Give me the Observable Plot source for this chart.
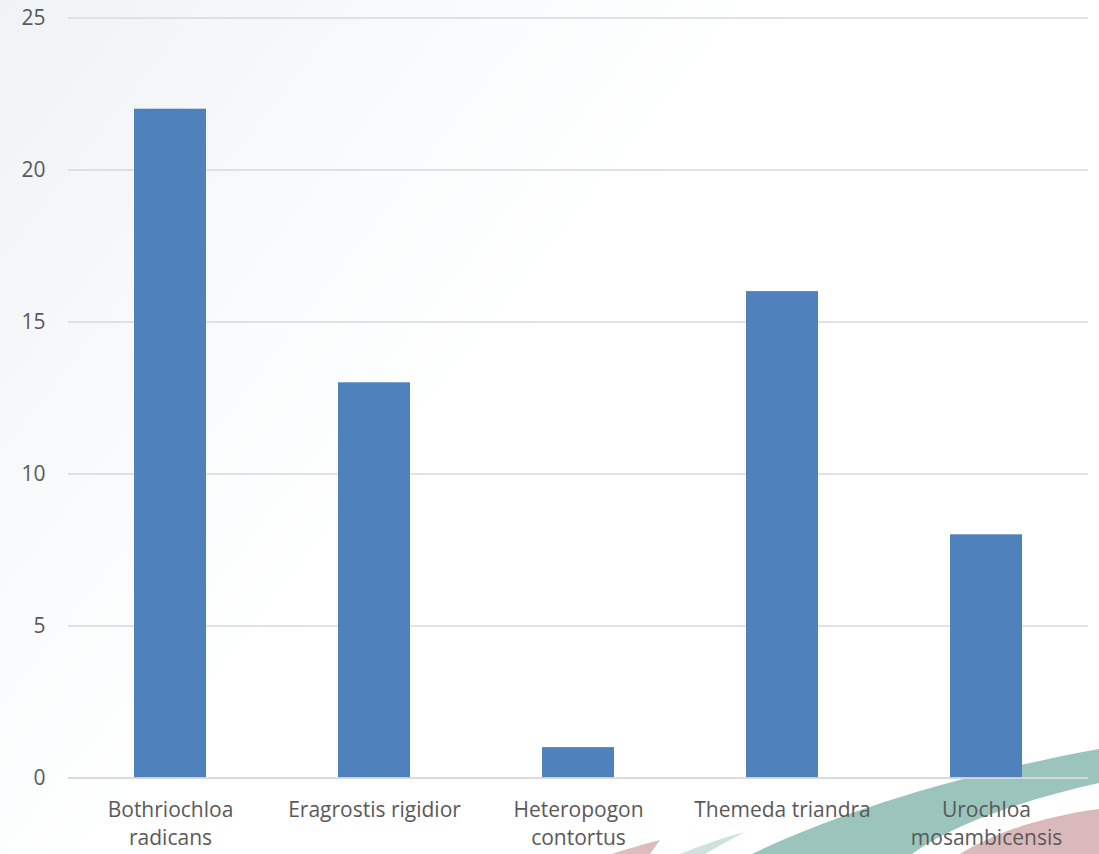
<!DOCTYPE html>
<html>
<head>
<meta charset="utf-8">
<script src="https://cdn.jsdelivr.net/npm/d3@7"></script>
<script src="https://cdn.jsdelivr.net/npm/@observablehq/plot@0.6"></script>
<style>
  html, body { margin: 0; padding: 0; }
  body {
    width: 1099px; height: 854px; overflow: hidden; position: relative;
    background: linear-gradient(128deg, #eff3f5 0%, #f8fafb 25%, #ffffff 45%, #ffffff 100%);
    font-family: "Open Sans", sans-serif;
  }
  #deco { position: absolute; left: 0; top: 0; }
  #chart { position: absolute; left: 0; top: 0; }
</style>
</head>
<body>
<!-- decorative swooshes in the lower right corner -->
<svg id="deco" width="1099" height="854" viewBox="0 0 1099 854">
  <path d="M612,854 C630,848 645,844 660,840 L650,854 Z" fill="#dcbcbc"/>
  <path d="M680,854 C700,846 722,838 745,832 C730,840 715,848 705,854 Z" fill="#cfe2de"/>
  <path d="M752,854 C820,822 930,780 1099,749 L1099,783 C1030,798 955,823 912,854 Z" fill="#9bc4bc"/>
  <path d="M960,854 C995,832 1045,816 1099,809 L1099,854 Z" fill="#d9b9b9"/>
</svg>
<div id="chart"></div>
<script>
// Grass species and their counts
const species = [
  "Bothriochloa radicans",
  "Eragrostis rigidior",
  "Heteropogon contortus",
  "Themeda triandra",
  "Urochloa mosambicensis"
];
const counts = [22, 13, 1, 16, 8];
const tickLabels = [
  "Bothriochloa\nradicans",
  "Eragrostis rigidior",
  "Heteropogon\ncontortus",
  "Themeda triandra",
  "Urochloa\nmosambicensis"
];
const yTicks = [0, 5, 10, 15, 20, 25];

const data = species.map((s, i) => ({species: s, count: counts[i]}));
const labelOf = new Map(species.map((s, i) => [s, tickLabels[i]]));

const chart = Plot.plot({
  width: 1099,
  height: 854,
  marginTop: 17.5,
  marginBottom: 76.5,
  marginLeft: 68,
  marginRight: 11,
  style: {background: "transparent", fontFamily: "Open Sans, sans-serif", fontSize: "21px", color: "#595959"},
  x: {domain: species, paddingInner: 0.647, paddingOuter: 0.3235},
  y: {domain: [0, 25]},
  marks: [
    Plot.gridY(yTicks, {stroke: "#d9d9d9", strokeOpacity: 1, strokeWidth: 1.5}),
    Plot.barY(data, {x: "species", y: "count", fill: "#4f81bd"}),
    Plot.ruleY([0], {stroke: "#d9d9d9", strokeWidth: 1.5}),
    Plot.axisY(yTicks, {tickSize: 0, tickPadding: 23, label: null, fill: "#595959", fontSize: 21}),
    Plot.axisX({tickSize: 0, tickPadding: 19, label: null, fill: "#595959", fontSize: 21,
      lineHeight: 1.34, tickFormat: d => labelOf.get(d)})
  ]
});
document.getElementById("chart").appendChild(chart);
</script>
</body>
</html>
